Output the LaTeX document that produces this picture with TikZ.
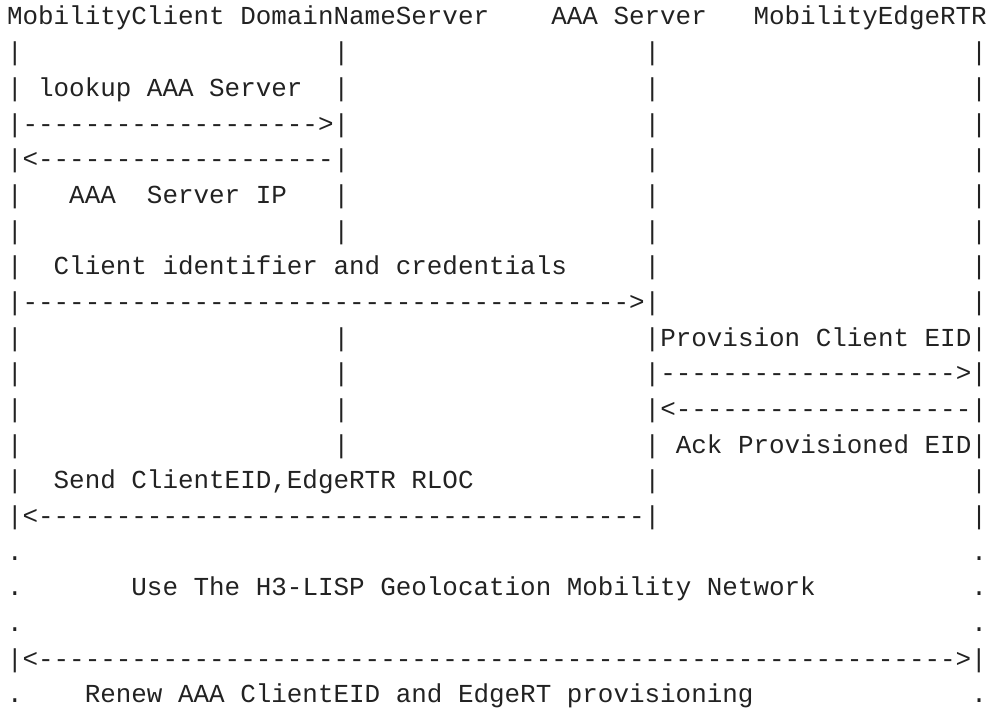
\documentclass[tikz,border=0pt]{standalone}
\usepackage{fontspec}
\setmonofont{Liberation Mono}
\usetikzlibrary{calc}
\definecolor{ink}{HTML}{222222}
\makeatletter
\newcommand\sk[1]{\kern\dimexpr#1\fontcharwd\font`x\relax}
\newcount\dshcnt
\newcommand\dsh[1]{\dshcnt=#1\relax\loop\ifnum\dshcnt>0 -\advance\dshcnt by -1\relax\repeat}
\makeatother
\tikzset{
  asciiline/.style={anchor=base west, inner sep=0pt, outer sep=0pt, text=ink,
    font=\ttfamily\fontsize{25.92pt}{30pt}\selectfont},
}
\newcommand\pitch{35.68}
\begin{document}
\begin{tikzpicture}[x=1pt,y=1pt]
\useasboundingbox (0,0) rectangle (992,-709);
\foreach \k/\txt in {
 1/{MobilityClient DomainNameServer\sk{4}AAA Server\sk{3}MobilityEdgeRTR},
 2/{|\sk{20}|\sk{19}|\sk{20}|},
 3/{| lookup AAA Server\sk{2}|\sk{19}|\sk{20}|},
 4/{|\dsh{19}>|\sk{19}|\sk{20}|},
 5/{|<\dsh{19}|\sk{19}|\sk{20}|},
 6/{|\sk{3}AAA\sk{2}Server IP\sk{3}|\sk{19}|\sk{20}|},
 7/{|\sk{20}|\sk{19}|\sk{20}|},
 8/{|\sk{2}Client identifier and credentials\sk{5}|\sk{20}|},
 9/{|\dsh{39}>|\sk{20}|},
 10/{|\sk{20}|\sk{19}|Provision Client EID|},
 11/{|\sk{20}|\sk{19}|\dsh{19}>|},
 12/{|\sk{20}|\sk{19}|<\dsh{19}|},
 13/{|\sk{20}|\sk{19}|\sk{1}Ack Provisioned EID|},
 14/{|\sk{2}Send ClientEID,EdgeRTR RLOC\sk{11}|\sk{20}|},
 15/{|<\dsh{39}|\sk{20}|},
 16/{.\sk{61}.},
 17/{.\sk{7}Use The H3-LISP Geolocation Mobility Network\sk{10}.},
 18/{.\sk{61}.},
 19/{|<\dsh{59}>|},
 20/{.\sk{4}Renew AAA ClientEID and EdgeRT provisioning\sk{14}.}
}{
  \node[asciiline] (line\k) at (7,{-(25+(\k-1)*\pitch)}) {\txt};
}
\end{tikzpicture}
\end{document}
